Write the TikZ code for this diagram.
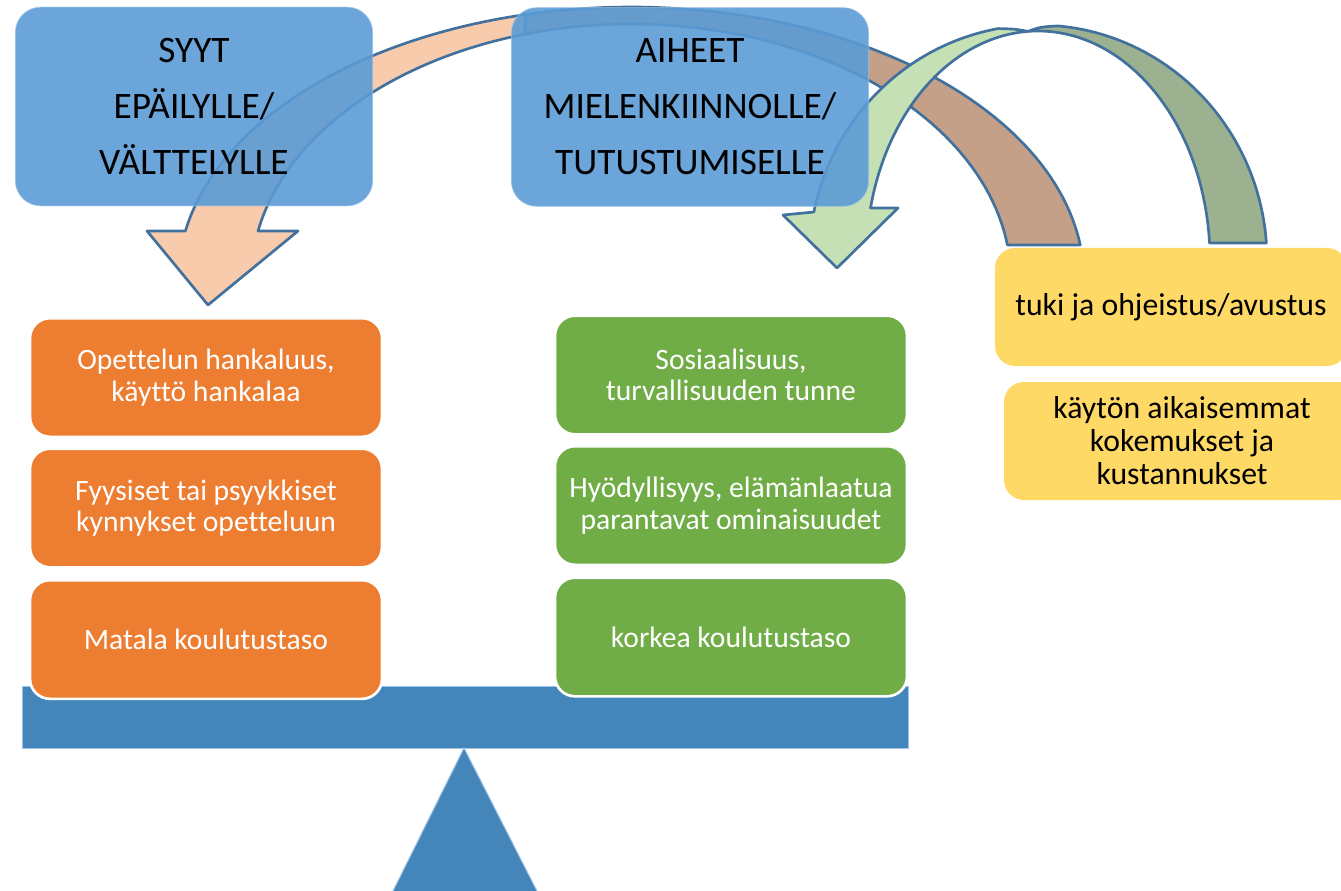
\documentclass[tikz,border=0pt]{standalone}
\usepackage{fontspec}
\setmainfont{Carlito}[Ligatures=NoCommon]
\usetikzlibrary{calc}
\definecolor{peach}{HTML}{F8CBAD}
\definecolor{brownband}{HTML}{C4A088}
\definecolor{lightgreen}{HTML}{C5E0B4}
\definecolor{darkgreen}{HTML}{9CB190}
\definecolor{arrowline}{HTML}{41719C}
\definecolor{topblue}{HTML}{5B9BD5}
\definecolor{orangebox}{HTML}{ED7D31}
\definecolor{greenbox}{HTML}{70AD47}
\definecolor{yellowbox}{HTML}{FFD966}
\definecolor{beamblue}{HTML}{4485BA}
\definecolor{glow}{HTML}{9DC3E6}
\begin{document}
\begin{tikzpicture}[x=0.75pt,y=-0.75pt,
  band/.style={draw=arrowline, line width=2pt, line join=round},
  topbox/.style={rectangle, rounded corners=19pt, fill=topblue, fill opacity=0.9, text opacity=1,
    draw=glow, draw opacity=0.6, line width=0.75pt,
    minimum width=268pt, minimum height=149pt, align=center, inner sep=0pt,
    font=\fontsize{28}{42}\selectfont, text=black},
  factorbox/.style={rectangle, rounded corners=15pt, draw=white, line width=2pt,
    minimum width=264pt, minimum height=89pt, align=center, inner sep=0pt,
    font=\fontsize{22.2}{23.6}\selectfont, text=white},
  orangestyle/.style={factorbox, fill=orangebox},
  greenstyle/.style={factorbox, fill=greenbox},
  yellowstyle/.style={rectangle, rounded corners=15pt, fill=yellowbox,
    minimum width=264pt, minimum height=88.5pt, align=center, inner sep=0pt,
    font=\fontsize{23.8}{24.7}\selectfont, text=black},
  beamstyle/.style={rectangle, fill=beamblue, draw=glow, line width=0.75pt,
    minimum width=665pt, minimum height=46.5pt, inner sep=0pt}
]
\useasboundingbox (0,0) rectangle (1341,891);

% balance
\node[beamstyle] (beam) at (465.5,717) {};
\filldraw[fill=beamblue, draw=glow, line width=0.75pt] (464,748) -- (538,893) -- (392,893) -- cycle;

% peach / brown curved arrow
\filldraw[band, fill=brownband]
  plot[domain=-103.5:-7.36, samples=60, variable=\t] ({631+453*cos(\t)},{280+273*sin(\t)})
  -- plot[domain=-7.86:-106.2, samples=60, variable=\t] ({631+380*cos(\t)},{280+256*sin(\t)})
  -- cycle;
\filldraw[band, fill=peach]
  plot[domain=-168.97:-106.2, samples=60, variable=\t] ({631+380*cos(\t)},{280+256*sin(\t)})
  -- plot[domain=-103.5:-169.66, samples=60, variable=\t] ({631+453*cos(\t)},{280+273*sin(\t)})
  -- (147,231) -- (208,305) -- (298,231) -- cycle;

% green curved arrow
\coordinate (GT) at (1028,31.4);
\filldraw[band, fill=darkgreen]
  (GT) .. controls (1040,27) .. ({1038+229*cos(-85)},{260+235*sin(-85)})
  -- plot[domain=-85:-4.15, samples=60, variable=\t] ({1038+229*cos(\t)},{260+235*sin(\t)})
  -- plot[domain=-4.26:-93.3, samples=60, variable=\t] ({1038+172*cos(\t)},{260+229*sin(\t)})
  -- cycle;
\filldraw[band, fill=lightgreen]
  plot[domain=-166.87:-93.3, samples=60, variable=\t] ({1038+172*cos(\t)},{260+229*sin(\t)})
  .. controls (1015,29) .. ({1038+229*cos(-100)},{260+235*sin(-100)})
  -- plot[domain=-100:-168.22, samples=60, variable=\t] ({1038+229*cos(\t)},{260+235*sin(\t)})
  -- (783,215) -- (837,268) -- (898,208) -- cycle;

% top boxes
\node[topbox] (syyt) at (194,106.5) {SYYT\\EPÄILYLLE/\\VÄLTTELYLLE};
\node[topbox] (aiheet) at (690,107) {AIHEET\\MIELENKIINNOLLE/\\TUTUSTUMISELLE};

% orange boxes
\node[orangestyle] (o1) at (206,377.5) {Opettelun hankaluus,\\käyttö hankalaa};
\node[orangestyle] (o2) at (206,508) {Fyysiset tai psyykkiset\\kynnykset opetteluun};
\node[orangestyle] (o3) at (206,639.5) {Matala koulutustaso};

% green boxes
\node[greenstyle] (g1) at (731,375) {Sosiaalisuus,\\turvallisuuden tunne};
\node[greenstyle] (g2) at (731,505.5) {Hyödyllisyys, elämänlaatua\\parantavat ominaisuudet};
\node[greenstyle] (g3) at (731,637) {korkea koulutustaso};

% yellow boxes
\node[yellowstyle] (y1) at (1171,307) {tuki ja ohjeistus/avustus};
\node[yellowstyle, minimum width=267pt] (y2) at (1182,441) {käytön aikaisemmat\\kokemukset ja\\kustannukset};
\end{tikzpicture}
\end{document}
